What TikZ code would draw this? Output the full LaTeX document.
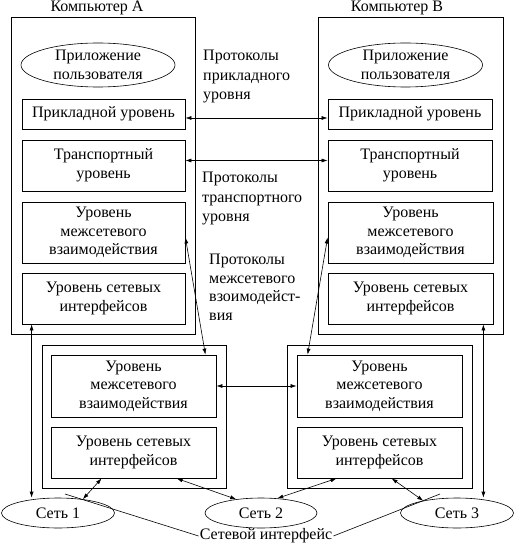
\documentclass[tikz,border=0pt]{standalone}
\usepackage{fontspec}
\setmainfont{Liberation Serif}
\usetikzlibrary{arrows.meta,shapes.geometric}

\begin{document}
\begin{tikzpicture}[x=1pt,y=-1pt,
    font=\fontsize{16}{18.5}\selectfont,
    host/.style={draw, line width=0.8pt, inner sep=0pt},
    layer/.style={draw, line width=0.8pt, align=center, inner sep=0pt},
    app/.style={draw, ellipse, line width=0.6pt, align=center, inner sep=0pt,
        minimum width=154pt, minimum height=44pt},
    net/.style={draw, ellipse, line width=0.6pt, inner sep=0pt,
        minimum width=113pt, minimum height=30pt},
    proto/.style={align=left, anchor=north west, inner sep=0pt},
    link/.style={line width=0.6pt, {Latex[length=6pt,width=4pt]}-{Latex[length=6pt,width=4pt]}}
    ]
    \useasboundingbox (0,0) rectangle (515,548);

    % computer A
    \node[host, minimum width=184pt, minimum height=317pt] (hostA) at (103,175.5) {};
    \node (titleA) at (97,8) {Компьютер А};
    \node[app] (appA) at (98,65) {Приложение\\пользователя};
    \node[layer, minimum width=163pt, minimum height=30pt] (prA) at (103.5,114) {Прикладной уровень};
    \node[layer, minimum width=163pt, minimum height=51pt] (trA) at (103.5,165.5) {Транспортный\\уровень};
    \node[layer, minimum width=163pt, minimum height=61pt] (ipA) at (103.5,232.5) {Уровень\\межсетевого\\взаимодействия};
    \node[layer, minimum width=163pt, minimum height=51pt] (niA) at (103.5,298.5) {Уровень сетевых\\интерфейсов};

    % computer B
    \node[host, minimum width=185pt, minimum height=317pt] (hostB) at (410.5,175.5) {};
    \node (titleB) at (397,8) {Компьютер В};
    \node[app] (appB) at (405.5,65) {Приложение\\пользователя};
    \node[layer, minimum width=164pt, minimum height=30pt] (prB) at (410,114) {Прикладной уровень};
    \node[layer, minimum width=164pt, minimum height=51pt] (trB) at (410,165.5) {Транспортный\\уровень};
    \node[layer, minimum width=165pt, minimum height=61pt] (ipB) at (410.5,232.5) {Уровень\\межсетевого\\взаимодействия};
    \node[layer, minimum width=165pt, minimum height=51pt] (niB) at (410.5,298.5) {Уровень сетевых\\интерфейсов};

    % routers
    \node[host, minimum width=184pt, minimum height=143pt] (rtA) at (134,416.5) {};
    \node[layer, minimum width=165pt, minimum height=62pt] (ipR1) at (133.5,386) {Уровень\\межсетевого\\взаимодействия};
    \node[layer, minimum width=165pt, minimum height=51pt] (niR1) at (133.5,452.5) {Уровень сетевых\\интерфейсов};
    \node[host, minimum width=185pt, minimum height=143pt] (rtB) at (379.5,416.5) {};
    \node[layer, minimum width=165pt, minimum height=62pt] (ipR2) at (379.5,386) {Уровень\\межсетевого\\взаимодействия};
    \node[layer, minimum width=165pt, minimum height=51pt] (niR2) at (379.5,452.5) {Уровень сетевых\\интерфейсов};

    % networks
    \node[net] (net1) at (58,513) {Сеть 1};
    \node[net, minimum width=112pt] (net2) at (261,513) {Сеть 2};
    \node[net] (net3) at (457,513) {Сеть 3};
    \node[inner sep=1pt] (iface) at (266,536) {Сетевой интерфейс};

    % protocols
    \node[proto, font=\fontsize{16}{19.5}\selectfont] (protoApp) at (203,50) {Протоколы\\прикладного\\уровня};
    \node[proto, font=\fontsize{16}{19.5}\selectfont] (protoTr) at (202,172) {Протоколы\\транспортного\\уровня};
    \node[proto] (protoIp) at (209,254) {Протоколы\\межсетевого\\взоимодейст-\\вия};

    \draw[link] ([yshift=-4pt]prA.east) -- ([yshift=-4pt]prB.west);
    \draw[link] ([yshift=5pt]trA.east) -- ([yshift=5pt]trB.west);
    \draw[link] ([yshift=-5pt]ipA.east) -- ([xshift=-11pt]ipR1.north east);
    \draw[link] ([yshift=-5pt]ipB.west) -- ([xshift=11pt]ipR2.north west);
    \draw[link] (ipR1.east) -- (ipR2.west);

    \coordinate (upA) at ([xshift=10pt]niA.south west);
    \coordinate (upB) at ([xshift=-10pt]niB.south east);
    \draw[link] (upA) -- (upA |- net1.north);
    \draw[link] (upB) -- (upB |- net3.north);
    \draw[link] ([xshift=51pt]niR1.south west) -- (net1.29);
    \draw[link] ([xshift=126pt]niR1.south west) -- (net2.151);
    \draw[link] ([xshift=40pt]niR2.south west) -- (net2.42);
    \draw[link] ([xshift=95pt]niR2.south west) -- (net3.160);

    \coordinate (ifL) at (65,494);
    \coordinate (ifR) at (440,494);
    \draw[line width=0.6pt] (ifL) -- (iface.west);
    \draw[line width=0.6pt] (iface.east) -- (ifR);
\end{tikzpicture}
\end{document}
